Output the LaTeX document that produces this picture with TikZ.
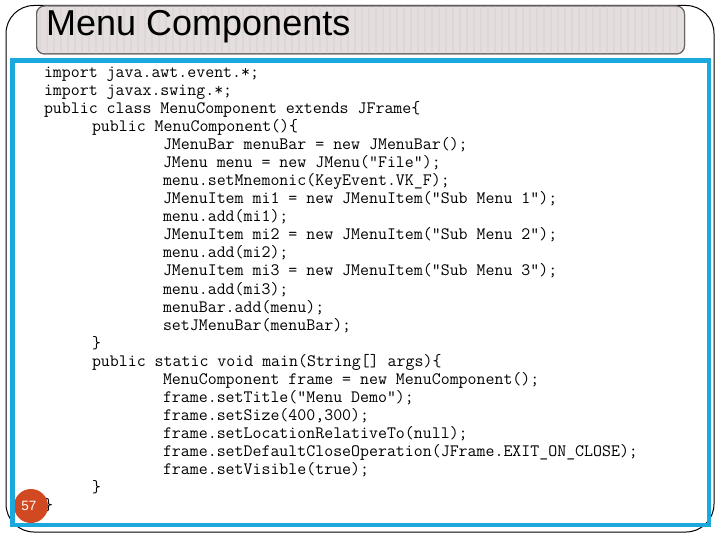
\documentclass[tikz,border=0pt]{standalone}
\usepackage{fontspec}
\setsansfont{Liberation Sans}
\definecolor{skyb}{RGB}{27,168,220}
\definecolor{titlefill}{RGB}{228,223,222}
\definecolor{titlestripe}{RGB}{221,216,215}
\definecolor{titleedge}{RGB}{105,98,98}
\definecolor{badge}{RGB}{209,73,32}
\tikzset{
  codeline/.style={anchor=base west,inner sep=0pt,outer sep=0pt,font=\fontsize{17.4bp}{18bp}\selectfont\ttfamily,text=black},
  outerframe/.style={draw=black,line width=1bp,rounded corners=28bp},
  titlebox/.style={draw=titleedge,fill=titlefill,line width=1bp,rounded corners=8bp},
  blueframe/.style={draw=skyb,line width=4.6bp},
  badgedot/.style={circle,fill=badge,minimum size=34bp,inner sep=0pt,text=white,font=\fontsize{13.5bp}{14bp}\selectfont\sffamily},
  titletext/.style={anchor=base west,inner sep=0pt,font=\fontsize{36bp}{38bp}\selectfont\sffamily}
}
\begin{document}
\begin{tikzpicture}[x=1bp,y=-1bp]
\useasboundingbox (0,0) rectangle (720,540);
\fill[white] (0,0) rectangle (720,540);
\draw[outerframe] (6,5.5) rectangle (714,532);
\draw[titlebox] (36.5,6) rectangle (684.5,54);
\begin{scope}
\clip[rounded corners=8bp] (37,6.5) rectangle (684,53.5);
\foreach \sx in {40,47,...,684} {
  \draw[titlestripe,line width=2.2bp] (\sx,6) -- (\sx,54);
}
\end{scope}
\draw[titleedge,line width=1bp,rounded corners=8bp] (36.5,6) rectangle (684.5,54);
\node[titletext] (title) at (46,36) {Menu Components};
\node[codeline] (l1) at (44,78) {import java.awt.event.*;};
\node[codeline] (l2) at (44,96) {import javax.swing.*;};
\node[codeline] (l3) at (44,114) {public class MenuComponent extends JFrame\{};
\node[codeline] (l4) at (92,132) {public MenuComponent()\{};
\node[codeline] (l5) at (163,150) {JMenuBar menuBar = new JMenuBar();};
\node[codeline] (l6) at (163,168) {JMenu menu = new JMenu("File");};
\node[codeline] (l7) at (163,186) {menu.setMnemonic(KeyEvent.VK\_F);};
\node[codeline] (l8) at (163,204) {JMenuItem mi1 = new JMenuItem("Sub Menu 1");};
\node[codeline] (l9) at (163,222) {menu.add(mi1);};
\node[codeline] (l10) at (163,240) {JMenuItem mi2 = new JMenuItem("Sub Menu 2");};
\node[codeline] (l11) at (163,258) {menu.add(mi2);};
\node[codeline] (l12) at (163,276) {JMenuItem mi3 = new JMenuItem("Sub Menu 3");};
\node[codeline] (l13) at (163,294) {menu.add(mi3);};
\node[codeline] (l14) at (163,312) {menuBar.add(menu);};
\node[codeline] (l15) at (163,330) {setJMenuBar(menuBar);};
\node[codeline] (l16) at (92,348) {\}};
\node[codeline] (l17) at (92,366) {public static void main(String[] args)\{};
\node[codeline] (l18) at (163,384) {MenuComponent frame = new MenuComponent();};
\node[codeline] (l19) at (163,402) {frame.setTitle("Menu Demo");};
\node[codeline] (l20) at (163,420) {frame.setSize(400,300);};
\node[codeline] (l21) at (163,438) {frame.setLocationRelativeTo(null);};
\node[codeline] (l22) at (163,456) {frame.setDefaultCloseOperation(JFrame.EXIT\_ON\_CLOSE);};
\node[codeline] (l23) at (163,474) {frame.setVisible(true);};
\node[codeline] (l24) at (92,492) {\}};
\node[codeline] (l25) at (44,510) {\}};
\node[badgedot] (num) at (31,506) {\raisebox{-1bp}{\kern-4bp 57}};
\draw[blueframe] (12.5,60.5) rectangle (709,525);
\end{tikzpicture}
\end{document}
